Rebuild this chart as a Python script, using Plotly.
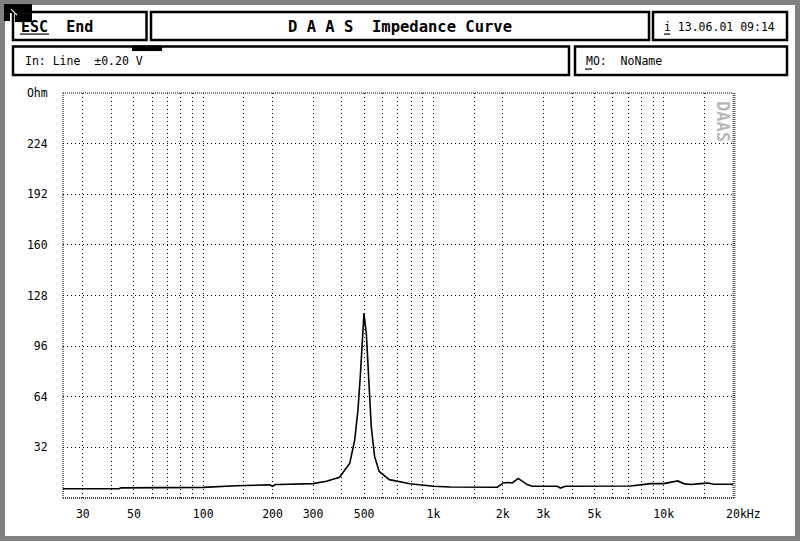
import math
import plotly.graph_objects as go

# ---------------- data ----------------
freq_hz = [24.6, 43, 44, 100, 139, 179, 194, 200, 206, 214, 270, 300, 343, 391, 403,
           433, 455, 470, 482, 492, 499, 511, 525, 537, 555, 581, 643, 791, 1000, 1180,
           1893, 2010, 2113, 2200, 2335, 2555, 2686, 3451, 3557, 3740, 7180, 7780, 8775,
           10000, 11510, 12220, 13110, 14490, 15550, 16520, 20000]
impedance_ohm = [5.8, 5.8, 6.4, 6.7, 7.7, 8.5, 8.3, 7.4, 8.5, 8.5, 8.6, 9.1, 10.6, 13.1, 15.8,
                 22.0, 36.7, 55.6, 78.8, 104.0, 116.7, 104.0, 74.4, 45.0, 26.3, 16.8, 11.6, 9.0, 7.4, 7.0,
                 6.8, 9.5, 9.8, 9.5, 12.4, 8.5, 7.4, 7.4, 6.3, 7.4, 7.6, 8.1, 9.1,
                 9.1, 10.8, 9.1, 8.5, 9.1, 9.5, 8.7, 8.7]

x_grid = [30, 40, 50, 60, 70, 80, 90, 100, 150, 200, 300, 400, 500, 600, 700, 800, 900,
          1000, 1500, 2000, 3000, 4000, 5000, 6000, 7000, 8000, 9000, 10000, 15000, 20000]
x_labels = ["30", "", "50", "", "", "", "", "100", "", "200", "300", "", "500", "", "", "", "",
            "1k", "", "2k", "3k", "", "5k", "", "", "", "", "10k", "", "\u00a0\u00a0\u00a020kHz"]
y_ticks = [32, 64, 96, 128, 160, 192, 224, 256]
y_labels = ["32", "64", "96", "128", "160", "192", "224", "Ohm"]

title_text = "D A A S\u00a0\u00a0Impedance Curve"
esc_text = "ESC\u00a0\u00a0End"
date_text = "i 13.06.01 09:14"
input_text = "In: Line\u00a0\u00a0±0.20 V"
mo_text = "MO:\u00a0\u00a0NoName"
logo_text = "DAAS"

# ---------------- layout geometry (pixels) ----------------
W, H = 800, 542
PL, PR, PT, PB = 63, 733, 93, 498.5


def px(x):
    return (x - PL) / (PR - PL)


def py(y):
    return (PB - y) / (PB - PT)


MONO = "DejaVu Sans Mono"

fig = go.Figure()
fig.add_trace(go.Scatter(x=freq_hz, y=impedance_ohm, mode="lines",
                         line=dict(color="black", width=1.6, shape="linear"),
                         hoverinfo="skip", showlegend=False))

shapes = []


def rect(x0, y0, x1, y1, lw=2.5, color="black", fill="rgba(0,0,0,0)", dash="solid"):
    shapes.append(dict(type="rect", xref="paper", yref="paper",
                       x0=px(x0), x1=px(x1), y0=py(y1), y1=py(y0),
                       line=dict(color=color, width=lw, dash=dash), fillcolor=fill,
                       layer="below"))


def line(x0, y0, x1, y1, lw=1, color="black", dash="solid"):
    shapes.append(dict(type="line", xref="paper", yref="paper",
                       x0=px(x0), x1=px(x1), y0=py(y0), y1=py(y1),
                       line=dict(color=color, width=lw, dash=dash), layer="below"))


# outer screen border
rect(2.5, 2.5, 797.5, 539, lw=5, color="#808080")
# header boxes
rect(13, 12, 146.5, 40)
rect(151, 12, 649, 40)
rect(653, 12, 787, 40)
rect(13, 46.5, 569, 75)
rect(575, 46.5, 787, 75)
# cursor blocks
rect(4, 4, 32, 13, lw=0, fill="black")
rect(15, 13, 32, 22, lw=0, fill="black")
rect(4, 13, 10, 21, lw=0, fill="black")
line(11, 9, 17, 15, lw=1.2, color="white")
rect(132, 45.5, 162, 51, lw=0, fill="black")
# underlines of hot keys
line(20, 34, 49, 34, lw=1.2)
line(664, 34, 670, 34, lw=1.2)
line(585, 69, 592, 69, lw=1.2)
# plot frame
line(PL, PT, PR, PT, lw=1, color="black", dash="1px,1px")
line(PL, PT, PL, PB, lw=1, color="black", dash="1px,1px")
line(PL, PB, PR + 1, PB, lw=2, color="#444", dash="1px,1px")
line(PR + 1, PT, PR + 1, PB, lw=3, color="#555", dash="1px,1px")


def note(text, x, y, anchor, size, color="black", angle=0):
    return dict(text=text, xref="paper", yref="paper", x=px(x), y=py(y),
                xanchor=anchor, yanchor="middle", textangle=angle,
                font=dict(family=MONO, size=size, color=color), showarrow=False)


annotations = [
    note("<b>" + esc_text + "</b>", 19, 26.5, "left", 15),
    note("<b>" + title_text + "</b>", 400, 26.5, "center", 15.5),
    note(date_text, 662, 26.5, "left", 11.5),
    note(input_text, 23, 61, "left", 11.5),
    note(mo_text, 584, 61, "left", 11.5),
    note("<b>" + logo_text + "</b>", 723, 121, "center", 17, color="#b8b8b8", angle=90),
]

fig.update_layout(
    width=W, height=H,
    margin=dict(l=PL, r=W - PR, t=PT, b=H - PB, pad=0, autoexpand=False),
    paper_bgcolor="white", plot_bgcolor="rgba(0,0,0,0)",
    shapes=shapes, annotations=annotations,
    showlegend=False,
    xaxis=dict(type="log", range=[math.log10(24.6), math.log10(20000)],
               tickmode="array", tickvals=x_grid, ticktext=x_labels,
               showgrid=True, gridcolor="black", gridwidth=1, griddash="1px,3px",
               zeroline=False, showline=False, automargin=False,
               ticks="outside", ticklen=5, tickcolor="rgba(0,0,0,0)",
               tickfont=dict(family=MONO, size=11.5, color="black")),
    yaxis=dict(range=[0, 256], tickmode="array", tickvals=y_ticks, ticktext=y_labels,
               showgrid=True, gridcolor="black", gridwidth=1, griddash="1px,3px",
               zeroline=False, showline=False, automargin=False,
               ticks="outside", ticklen=12, tickcolor="rgba(0,0,0,0)",
               tickfont=dict(family=MONO, size=11.5, color="black")),
)

fig.write_html("out.html", config={"displayModeBar": False},
               post_script="document.body.style.margin='0px';")
